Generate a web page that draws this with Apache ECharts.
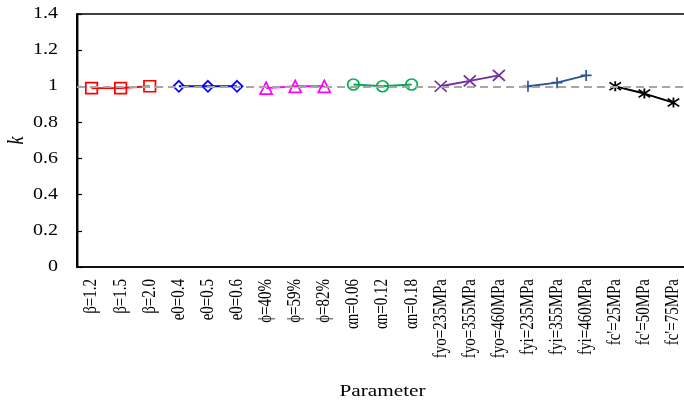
<!DOCTYPE html>
<html>
<head>
<meta charset="utf-8">
<script src="https://cdn.jsdelivr.net/npm/echarts@6/dist/echarts.min.js"></script>
<style>
  html, body { margin: 0; padding: 0; background: #fff; overflow: hidden; }
  #chart { width: 684px; height: 405px; }
</style>
</head>
<body>
<div id="chart"></div>
<script>
// Parameter levels along the x axis
const categories = [
  'β=1.2', 'β=1.5', 'β=2.0',
  'e0=0.4', 'e0=0.5', 'e0=0.6',
  'ϕ=40%', 'ϕ=59%', 'ϕ=82%',
  'αn=0.06', 'αn=0.12', 'αn=0.18',
  'fyo=235MPa', 'fyo=355MPa', 'fyo=460MPa',
  'fyi=235MPa', 'fyi=355MPa', 'fyi=460MPa',
  "fc'=25MPa", "fc'=50MPa", "fc'=75MPa"
];

// k values for each parameter group (three levels each)
const kBeta = [0.99, 0.99, 1.00];
const kE0 = [1.00, 1.00, 1.00];
const kPhi = [0.99, 1.00, 1.00];
const kAlpha = [1.01, 1.00, 1.01];
const kFyo = [1.00, 1.03, 1.06];
const kFyi = [1.00, 1.02, 1.06];
const kFc = [1.00, 0.96, 0.91];

const yTicks = [0, 0.2, 0.4, 0.6, 0.8, 1, 1.2, 1.4];
const refK = 1;

// The figure is laid out narrow and widened by SX afterwards,
// which gives the horizontally stretched type of the original plot.
const SX = 1.25;

const SYM_X = 'path://M0,0L10,10M10,0L0,10';
const SYM_PLUS = 'path://M5,0L5,10M0,5L10,5';
const SYM_STAR = 'path://M0,0L10,10M10,0L0,10M5,-1.5L5,11.5';

// marker sizes in final screen pixels (compensated for the stretch below)
const groups = [
  { values: kBeta, color: '#ff0000', symbol: 'rect', size: [11.5, 11] },
  { values: kE0, color: '#0000ff', symbol: 'diamond', size: [11, 11] },
  { values: kPhi, color: '#ff00ff', symbol: 'triangle', size: [12, 12] },
  { values: kAlpha, color: '#00b050', symbol: 'circle', size: [11.5, 11] },
  { values: kFyo, color: '#7030a0', symbol: SYM_X, size: [12, 11] },
  { values: kFyi, color: '#2f5597', symbol: SYM_PLUS, size: [11, 11] },
  { values: kFc, color: '#000000', symbol: SYM_STAR, size: [11.5, 10] }
];

const FONT = '"Liberation Serif", "Times New Roman", serif';

const series = groups.map((g, gi) => {
  const data = categories.map(() => null);
  g.values.forEach((v, i) => { data[gi * 3 + i] = v; });
  return {
    type: 'line',
    data: data,
    connectNulls: false,
    symbol: g.symbol,
    symbolSize: [g.size[0] / SX, g.size[1]],
    showAllSymbol: true,
    lineStyle: { color: g.color, width: 1.9 },
    itemStyle: { color: 'transparent', borderColor: g.color, borderWidth: 1.7 },
    emphasis: { disabled: true },
    z: 3
  };
});

// Dashed reference line at k = 1
series.push({
  type: 'line',
  data: [],
  silent: true,
  z: 2,
  markLine: {
    silent: true,
    symbol: 'none',
    label: { show: false },
    lineStyle: { color: '#a6a6a6', width: 2, type: [8 / SX, 5 / SX] },
    data: [{ yAxis: refK }]
  }
});

const chart = echarts.init(document.getElementById('chart'), null, {
  renderer: 'canvas', width: 684, height: 405
});
chart.setOption({
  animation: false,
  backgroundColor: '#fff',
  grid: {
    left: 77 / SX, top: 14, width: 611 / SX, bottom: 138,
    show: true, borderColor: '#000', borderWidth: 1.5,
    containLabel: false,
    outerBoundsMode: 'none'
  },
  xAxis: {
    type: 'category',
    data: categories,
    boundaryGap: true,
    axisLine: { lineStyle: { color: '#000', width: 1.5 } },
    axisTick: { inside: true, length: 5, interval: 0, lineStyle: { color: '#000', width: 1 } },
    axisLabel: {
      interval: 0, rotate: 90, margin: 12,
      fontFamily: FONT, fontSize: 15, color: '#000'
    },
    name: 'Parameter',
    nameLocation: 'middle',
    nameGap: 116,
    nameMoveOverlap: false,
    nameTextStyle: { fontFamily: FONT, fontSize: 17, color: '#000' }
  },
  yAxis: {
    type: 'value',
    min: yTicks[0],
    max: yTicks[yTicks.length - 1],
    interval: 0.2,
    splitLine: { show: false },
    axisLine: { show: true, lineStyle: { color: '#000', width: 1.5 } },
    axisTick: { show: true, inside: true, length: 4, lineStyle: { color: '#000', width: 1.2 } },
    axisLabel: {
      margin: 19 / SX, fontFamily: FONT, fontSize: 16, color: '#000',
      formatter: v => String(Math.round(v * 10) / 10)
    },
    name: 'k',
    nameLocation: 'middle',
    nameGap: 39,
    nameMoveOverlap: false,
    nameTextStyle: { fontFamily: FONT, fontSize: 18, fontStyle: 'italic', color: '#000' }
  },
  series: series
});

// Widen everything horizontally about x = 0
const zr = chart.getZr();
zr.storage.getRoots().forEach(root => {
  root.x = (root.x || 0) * SX;
  root.scaleX = (root.scaleX || 1) * SX;
  root.originX = 0;
  root.traverse(el => { if (el.markRedraw) el.markRedraw(); });
});
zr.refreshImmediately();
</script>
</body>
</html>
